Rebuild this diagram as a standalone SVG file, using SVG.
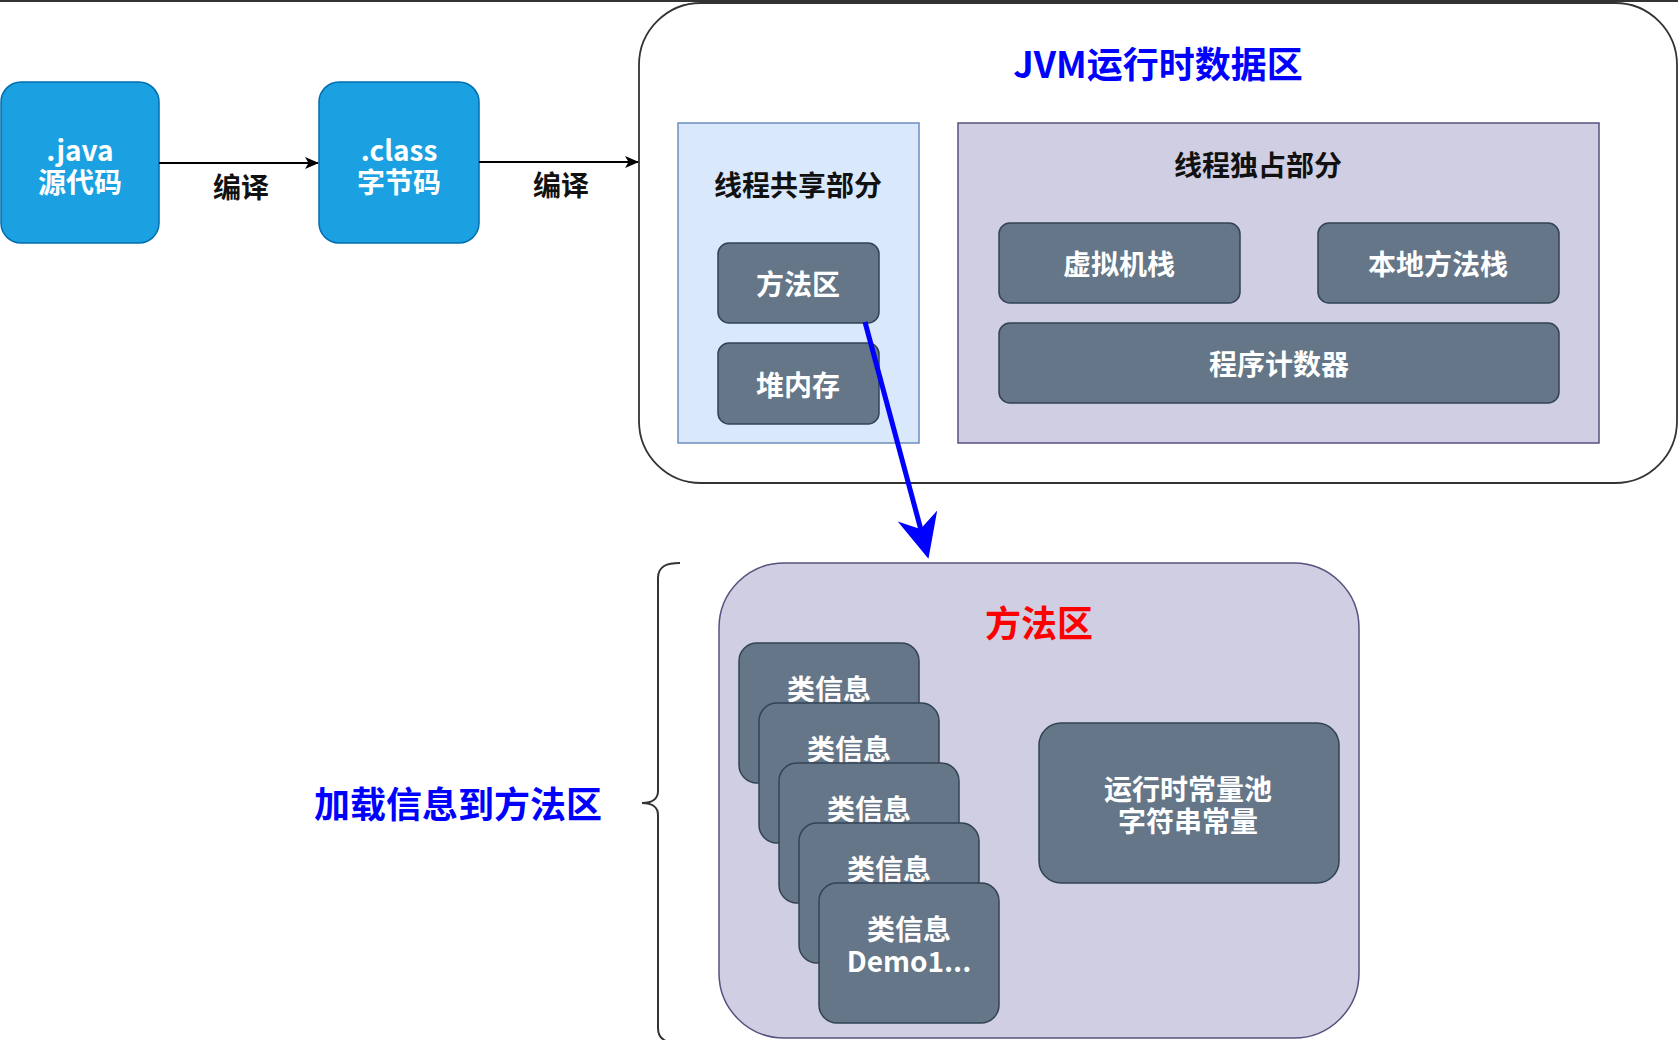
<svg xmlns="http://www.w3.org/2000/svg" width="1678" height="1040" viewBox="0 0 1678 1040">
<style>
text{font-family:"Noto Sans CJK SC","Liberation Sans",sans-serif;font-weight:bold;font-size:28px;dominant-baseline:central;text-anchor:middle}
.w{fill:#ffffff}
.k{fill:#111111}
.blue{fill:#1ba1e2;stroke:#006eaf;stroke-width:1.5}
.dark{fill:#647687;stroke:#314354;stroke-width:1.5}
.purple{fill:#d0cee2;stroke:#56517e;stroke-width:1.5}
.title{font-size:36px}
</style>
<defs>
<marker id="ah" viewBox="0 0 14 12" refX="13" refY="6" markerWidth="14" markerHeight="12" markerUnits="userSpaceOnUse" orient="auto">
<path d="M0,0 L14,6 L0,12 L3.5,6 Z" fill="#000"/>
</marker>
</defs>
<rect x="0" y="0" width="1678" height="1040" fill="#ffffff"/>
<rect x="0" y="0" width="1678" height="2" fill="#333333"/>

<g id="jvm">
<rect x="639" y="3" width="1038" height="480" rx="62" fill="#ffffff" stroke="#333333" stroke-width="1.8"/>
<text class="title" x="1158" y="62" fill="#0000ff">JVM运行时数据区</text>
</g>

<g id="java">
<rect class="blue" x="1" y="82" width="158" height="161" rx="20"/>
<text class="w" x="80" y="149"><tspan x="80" y="149">.java</tspan><tspan x="80" y="181">源代码</tspan></text>
</g>

<g id="class">
<rect class="blue" x="319" y="82" width="160" height="161" rx="20"/>
<text class="w" x="399" y="149"><tspan x="399" y="149">.class</tspan><tspan x="399" y="181">字节码</tspan></text>
</g>

<g id="shared">
<rect x="678" y="123" width="241" height="320" fill="#dae8fc" stroke="#6c8ebf" stroke-width="1.5"/>
<text class="k" x="798" y="184">线程共享部分</text>
</g>

<g id="method-small">
<rect class="dark" x="718" y="243" width="161" height="80" rx="11"/>
<text class="w" x="798" y="283">方法区</text>
</g>

<g id="heap">
<rect class="dark" x="718" y="343" width="161" height="81" rx="11"/>
<text class="w" x="798" y="384">堆内存</text>
</g>

<g id="exclusive">
<rect class="purple" x="958" y="123" width="641" height="320"/>
<text class="k" x="1258" y="164">线程独占部分</text>
</g>

<g id="vmstack">
<rect class="dark" x="999" y="223" width="241" height="80" rx="11"/>
<text class="w" x="1119" y="263">虚拟机栈</text>
</g>

<g id="nativestack">
<rect class="dark" x="1318" y="223" width="241" height="80" rx="11"/>
<text class="w" x="1438" y="263">本地方法栈</text>
</g>

<g id="pc">
<rect class="dark" x="999" y="323" width="560" height="80" rx="11"/>
<text class="w" x="1279" y="363">程序计数器</text>
</g>

<g id="method-area">
<rect class="purple" x="719" y="563" width="640" height="475" rx="65"/>
<text class="title" x="1039" y="621" fill="#ff0000">方法区</text>
</g>

<g id="class-info-1">
<rect class="dark" x="739" y="643" width="180" height="140" rx="18"/>
<text class="w" x="829" y="688">类信息</text>
</g>
<g id="class-info-2">
<rect class="dark" x="759" y="703" width="180" height="140" rx="18"/>
<text class="w" x="849" y="748">类信息</text>
</g>
<g id="class-info-3">
<rect class="dark" x="779" y="763" width="180" height="140" rx="18"/>
<text class="w" x="869" y="808">类信息</text>
</g>
<g id="class-info-4">
<rect class="dark" x="799" y="823" width="180" height="140" rx="18"/>
<text class="w" x="889" y="868">类信息</text>
</g>
<g id="class-info-5">
<rect class="dark" x="819" y="883" width="180" height="140" rx="18"/>
<text class="w" x="909" y="928"><tspan x="909" y="928">类信息</tspan><tspan x="909" y="960">Demo1...</tspan></text>
</g>

<g id="constant-pool">
<rect class="dark" x="1039" y="723" width="300" height="160" rx="22"/>
<text class="w" x="1188" y="788"><tspan x="1188" y="788">运行时常量池</tspan><tspan x="1188" y="820">字符串常量</tspan></text>
</g>

<g id="load-label">
<text class="title" x="458" y="802" fill="#0000ff">加载信息到方法区</text>
<path d="M680,563 C667,563 658,566 658,578 L658,791 C658,798 653,803 642,803 C653,803 658,808 658,815 L658,1028 C658,1040 667,1043 680,1043" fill="none" stroke="#333333" stroke-width="2"/>
</g>

<g id="connectors">
<line x1="159" y1="163" x2="318" y2="163" stroke="#000" stroke-width="2" marker-end="url(#ah)"/>
<text class="k" x="241" y="186">编译</text>
<line x1="479" y1="162" x2="638" y2="162" stroke="#000" stroke-width="2" marker-end="url(#ah)"/>
<text class="k" x="561" y="184">编译</text>
<line x1="865" y1="322" x2="921" y2="530" stroke="#0000ff" stroke-width="5"/>
<path d="M928,557 L936,513 L920.7,530 L900,523 Z" fill="#0000ff" stroke="#0000ff" stroke-width="1.5" stroke-linejoin="miter"/>
</g>
</svg>
